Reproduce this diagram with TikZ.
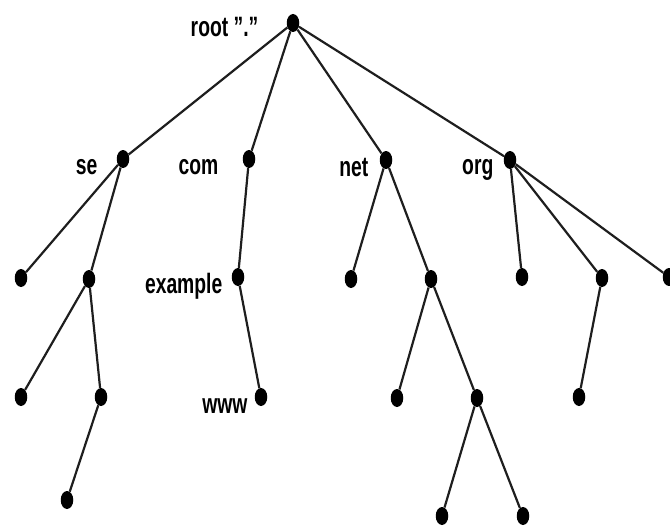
\documentclass[tikz,border=0pt]{standalone}
\usepackage{fontspec}
\usepackage{tikz}
\usetikzlibrary{positioning, shapes.geometric}
\newfontfamily\lblfont[FakeStretch=0.69]{Liberation Sans}
\definecolor{dnsline}{HTML}{1E1E1E}

\begin{document}
\begin{tikzpicture}[x=1pt, y=-1pt,
    dot/.style={ellipse, fill=black, inner sep=0pt,
                minimum width=12.5pt, minimum height=18pt},
    lbl/.style={font=\lblfont\bfseries\fontsize{28}{30}\selectfont, inner sep=0pt,
                anchor=base east},
    edge/.style={line width=2.2pt, dnsline},
]
    \useasboundingbox (0,0) rectangle (670,527);

    % top level
    \node[dot] (root) at (293, 23) {};
    \node[dot] (se)   at (123, 159) {};
    \node[dot] (com)  at (249, 159) {};
    \node[dot] (net)  at (386, 160) {};
    \node[dot] (org)  at (510, 160) {};

    \node[lbl] (lroot) at ([xshift=-28pt, yshift=-14pt]root.west) {root ”.”};
    \node[lbl] (lse)   at ([xshift=-19pt, yshift=-15pt]se.west) {se};
    \node[lbl] (lcom)  at ([xshift=-24pt, yshift=-15pt]com.west) {com};
    \node[lbl] (lnet)  at ([xshift=-11pt, yshift=-16pt]net.west) {net};
    \node[lbl] (lorg)  at ([xshift=-10pt, yshift=-14pt]org.west) {org};

    % se subtree
    \node[dot] (se1)   at (21, 278) {};
    \node[dot] (se2)   at (89, 279) {};
    \node[dot] (se21)  at (21, 397) {};
    \node[dot] (se22)  at (101, 397) {};
    \node[dot] (se221) at (67, 500) {};

    % com subtree
    \node[dot] (example) at (238, 277) {};
    \node[dot] (www)     at (261, 397) {};
    \node[lbl] (lexample) at ([xshift=-9pt, yshift=-16pt]example.west) {example};
    \node[lbl] (lwww)     at ([xshift=-7pt, yshift=-16pt]www.west) {www};

    % net subtree
    \node[dot] (net1)   at (351, 279) {};
    \node[dot] (net2)   at (431, 279) {};
    \node[dot] (net21)  at (397, 398) {};
    \node[dot] (net22)  at (477, 398) {};
    \node[dot] (net221) at (442, 516) {};
    \node[dot] (net222) at (523, 516) {};

    % org subtree
    \node[dot] (org1)  at (522, 277) {};
    \node[dot] (org2)  at (602, 278) {};
    \node[dot] (org3)  at (669, 277) {};
    \node[dot] (org21) at (579, 397) {};

    \draw[edge] (root) -- (se);
    \draw[edge] (root) -- (com);
    \draw[edge] (root) -- (net);
    \draw[edge] (root) -- (org);

    \draw[edge] (se) -- (se1);
    \draw[edge] (se) -- (se2);
    \draw[edge] (se2) -- (se21);
    \draw[edge] (se2) -- (se22);
    \draw[edge] (se22) -- (se221);

    \draw[edge] (com) -- (example);
    \draw[edge] (example) -- (www);

    \draw[edge] (net) -- (net1);
    \draw[edge] (net) -- (net2);
    \draw[edge] (net2) -- (net21);
    \draw[edge] (net2) -- (net22);
    \draw[edge] (net22) -- (net221);
    \draw[edge] (net22) -- (net222);

    \draw[edge] (org) -- (org1);
    \draw[edge] (org) -- (org2);
    \draw[edge] (org) -- (org3);
    \draw[edge] (org2) -- (org21);
\end{tikzpicture}
\end{document}
